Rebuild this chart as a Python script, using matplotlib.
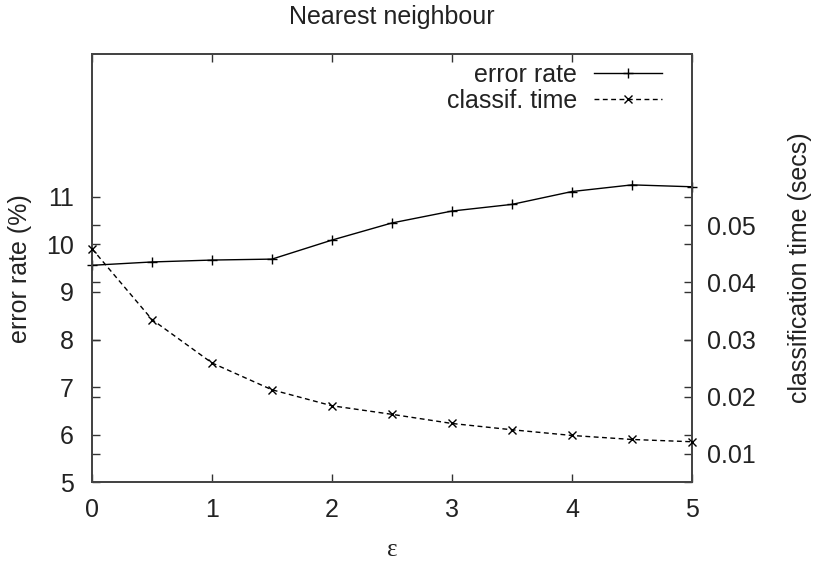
#!/usr/bin/env python3
# Nearest neighbour: error rate i classification time vs epsilon (gnuplot stil)

import matplotlib
matplotlib.use('Agg')
import matplotlib.pyplot as plt

eps          = [0, 0.5, 1, 1.5, 2, 2.5, 3, 3.5, 4, 4.5, 5]
error_rate   = [9.56, 9.63, 9.67, 9.69, 10.09, 10.45, 10.70, 10.84, 11.11, 11.25, 11.21]
classif_time = [0.0459, 0.0335, 0.0259, 0.0212, 0.0184, 0.0169,
                0.0153, 0.0142, 0.0132, 0.0125, 0.0121]

x_ticks  = [0, 1, 2, 3, 4, 5]
y_ticks  = [5, 6, 7, 8, 9, 10, 11]
y2_ticks = [0.01, 0.02, 0.03, 0.04, 0.05]

plt.rcParams.update({
    'font.family': ['Liberation Sans', 'DejaVu Sans'],
    'font.size': 18,
    'text.color': '#222222',
    'axes.labelcolor': '#222222',
    'xtick.color': '#333333',
    'ytick.color': '#333333',
    'xtick.labelcolor': '#222222',
    'ytick.labelcolor': '#222222',
})

fig = plt.figure(figsize=(8.14, 5.61), dpi=100)
ax = fig.add_axes([92/814, 1 - 482.3/561, 600/814, 428.3/561])
ax2 = ax.twinx()

LINE_C = 'black'

l1, = ax.plot(eps, error_rate, color=LINE_C, lw=1.0, marker='+', ms=7,
              mew=1.0, clip_on=False, label='error rate', zorder=3)
l2, = ax2.plot(eps, classif_time, color=LINE_C, lw=1.0, ls=(0, (3.5, 2.5)),
               marker='x', ms=6, mew=1.0, clip_on=False,
               label='classif. time', zorder=3)

ax.set_xlim(0, 5)
ax.set_ylim(5, 14)
ax2.set_ylim(0.005, 0.08)

ax.set_xticks(x_ticks)
ax.set_yticks(y_ticks)
ax2.set_yticks(y2_ticks)
ax.set_xticklabels([str(v) for v in x_ticks])
ax.set_yticklabels([str(v) for v in y_ticks])
ax2.set_yticklabels([f'{v:.2f}' for v in y2_ticks])

ax.tick_params(axis='x', direction='in', top=True, bottom=True,
               length=6, width=1.0, pad=11)
ax.tick_params(axis='y', direction='in', left=True, right=True,
               labelright=False, length=6, width=1.0, pad=13)
ax2.tick_params(axis='y', direction='in', left=True, right=True,
                labelleft=False, length=6, width=1.0, pad=11)

for a in (ax, ax2):
    for s in a.spines.values():
        s.set_color('#444444')
        s.set_linewidth(1.3)

ax.set_ylabel('error rate (%)')
ax.yaxis.set_label_coords(-0.1, 0.5)
ax2.set_ylabel('classification time (secs)')
ax2.yaxis.set_label_coords(1.16, 0.5)
ax.set_xlabel('ε', family=['Liberation Serif', 'DejaVu Serif'])
ax.xaxis.set_label_coords(0.5, -0.132)

fig.text(392/814, 1 - 24/561, 'Nearest neighbour', ha='center', va='baseline')

leg = ax2.legend(handles=[l1, l2], loc='upper right', markerfirst=False,
                 frameon=False, handlelength=2.7, handletextpad=0.7,
                 labelspacing=0.08, borderaxespad=0.0,
                 bbox_to_anchor=(1 - 20/600, 1 + 1/428.3))

fig.savefig('out.png', dpi=100)
plt.close(fig)
